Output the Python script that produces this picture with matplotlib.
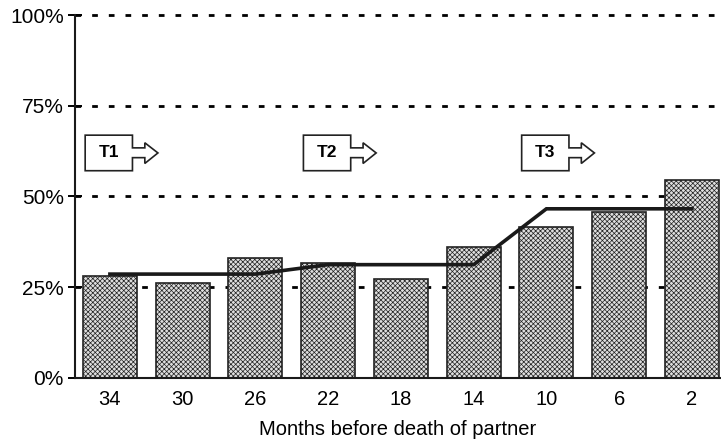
import numpy as np
import matplotlib.pyplot as plt
from matplotlib.patches import Polygon

plt.rcParams['font.family'] = ['Liberation Sans', 'DejaVu Sans']
plt.rcParams['hatch.color'] = '#959595'
plt.rcParams['hatch.linewidth'] = 0.5

months = ['34', '30', '26', '22', '18', '14', '10', '6', '2']
share = [28.1, 26.2, 33.1, 31.6, 27.3, 36.2, 41.6, 45.8, 54.6]
trend = [28.6, 28.6, 28.6, 31.2, 31.2, 31.2, 46.6, 46.6, 46.6]
periods = ['T1', 'T2', 'T3']
period_pos = [0, 3, 6]
yticks = [0, 25, 50, 75, 100]

fig = plt.figure(figsize=(7.21, 4.44), dpi=100)
ax = fig.add_axes([0.104, 0.149, 0.896, 0.817])
x = np.arange(len(months))

lw = 2.0
for yv in yticks[1:]:
    ax.axhline(yv, color='black', lw=lw, ls=(0, (4.1/lw, 7.9/lw)),
               zorder=1, clip_on=False)

ax.bar(x, share, width=0.74, facecolor='#dedede', edgecolor='#222222',
       linewidth=1.2, hatch='xxxxxxx', zorder=2)
ax.plot(x, trend, color='#1a1a1a', lw=2.6, zorder=3, solid_joinstyle='miter')

# period markers: box with arrow
for lab, p in zip(periods, period_pos):
    l, r, se, tip = p - 0.34, p + 0.31, p + 0.48, p + 0.66
    top, bot, st, sb, ht, hb, mid = 66.9, 57.1, 63.4, 60.7, 64.8, 59.1, 62.0
    pts = [(l, top), (r, top), (r, st), (se, st), (se, ht), (tip, mid),
           (se, hb), (se, sb), (r, sb), (r, bot), (l, bot)]
    ax.add_patch(Polygon(pts, closed=True, facecolor='white', edgecolor='#222222',
                         lw=1.2, zorder=4, joinstyle='miter'))
    ax.text((l + r) / 2, mid, lab, ha='center', va='center', fontsize=12.5,
            fontweight='bold', zorder=5)

ax.set_xlim(-0.48, 8.40)
ax.set_ylim(0, 100)
ax.set_xticks(x)
ax.set_xticklabels(months, fontsize=14.5)
ax.set_yticks(yticks)
ax.set_yticklabels([f'{v}%' for v in yticks], fontsize=15)
ax.tick_params(axis='x', length=0, pad=9)
ax.tick_params(axis='y', length=10, width=1.4, direction='inout', pad=3)
ax.set_xlabel('Months before death of partner', fontsize=14.5, labelpad=8)

for s in ['top', 'right']:
    ax.spines[s].set_visible(False)
for s in ['left', 'bottom']:
    ax.spines[s].set_linewidth(1.5)
    ax.spines[s].set_color('#1a1a1a')

fig.savefig('out.png', dpi=100)
